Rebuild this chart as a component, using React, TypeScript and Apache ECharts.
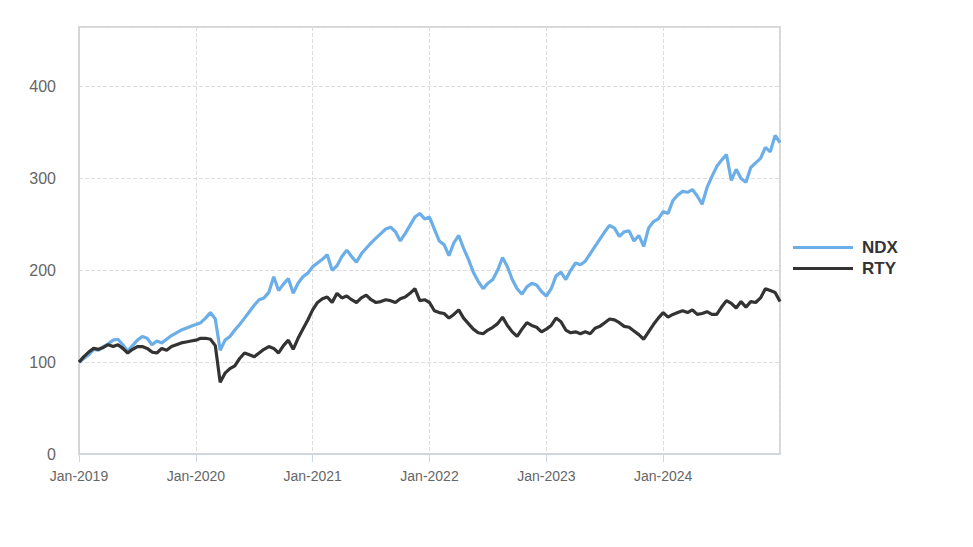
import React, { useEffect, useRef } from "react";
import * as echarts from "echarts";

// Half-month sample dates, Jan-2019 .. Jan-2025
const dates: string[] = [];
for (let y = 2019; y <= 2024; y++) {
  for (let m = 1; m <= 12; m++) {
    const mm = String(m).padStart(2, "0");
    dates.push(`${y}-${mm}-01`);
    dates.push(`${y}-${mm}-15`);
  }
}
dates.push("2025-01-01");

const ndx = [
  100, 104, 108, 114, 113, 117, 120, 124, 125, 119, 112, 118, 124, 128, 126, 119,
  123, 121, 125, 129, 132, 135, 137, 139, 141, 143, 148, 154, 147, 113, 124, 128,
  135, 141, 148, 155, 162, 168, 170, 176, 193, 178, 185, 191, 175, 186, 193, 197,
  204, 208, 212, 217, 200, 205, 215, 222, 215, 209, 218, 224, 230, 235, 240, 245,
  247, 242, 232, 240, 249, 258, 262, 256, 258, 245, 232, 228, 216, 230, 238, 224,
  212, 198, 188, 180, 186, 190, 200, 214, 204, 190, 180, 174, 182, 186, 184, 177,
  172, 180, 194, 198, 190, 200, 208, 206, 210, 218, 226, 234, 242, 249, 246, 237,
  242, 243, 232, 238, 226, 246, 253, 256, 264, 262, 276, 282, 286, 285, 288, 281,
  272, 290, 302, 313, 320, 326, 298, 310, 300, 296, 312, 317, 322, 334, 329, 347,
  339,
];

const rty = [
  100, 106, 111, 115, 114, 116, 119, 117, 119, 115, 110, 114, 117, 117, 115, 111,
  110, 115, 113, 117, 119, 121, 122, 123, 124, 126, 126, 125, 118, 78, 88, 93,
  96, 104, 110, 108, 106, 110, 114, 117, 115, 110, 118, 124, 114, 126, 136, 146,
  157, 165, 169, 171, 165, 175, 170, 172, 168, 165, 170, 173, 168, 165, 166, 168,
  167, 165, 169, 171, 175, 180, 167, 168, 165, 156, 154, 153, 148, 152, 157, 148,
  142, 136, 132, 131, 135, 138, 142, 149, 140, 133, 128, 136, 143, 140, 138, 133,
  136, 140, 148, 144, 135, 132, 133, 131, 133, 131, 137, 139, 143, 147, 146, 143,
  139, 138, 134, 130, 125, 133, 141, 148, 154, 149, 152, 154, 156, 154, 157, 152,
  153, 155, 152, 152, 160, 167, 164, 159, 166, 160, 166, 165, 170, 180, 178, 176,
  166,
];

const seriesNames = ["NDX", "RTY"];
const yTicks = [0, 100, 200, 300, 400];

function toMonths(d: string): number {
  const [y, m, day] = d.split("-").map(Number);
  return (y - 2019) * 12 + (m - 1) + (day >= 15 ? 0.5 : 0);
}

export default function App() {
  const ref = useRef<HTMLDivElement>(null);
  useEffect(() => {
    if (!ref.current) return;
    const chart = echarts.init(ref.current, null, { renderer: "svg" });
    const xs = dates.map(toMonths);
    chart.setOption({
      animation: false,
      backgroundColor: "#ffffff",
      grid: {
        left: 79,
        right: 193,
        top: 27,
        bottom: 93,
        show: true,
        borderColor: "#d6d6d6",
        borderWidth: 2,
        backgroundColor: "transparent",
      },
      legend: {
        orient: "vertical",
        left: 788,
        top: 234,
        itemWidth: 60,
        itemHeight: 3,
        itemGap: 4,
        icon: "rect",
        data: seriesNames,
        textStyle: {
          fontFamily: "Liberation Sans, Arial, sans-serif",
          fontWeight: "bold",
          fontSize: 17,
          color: "#333333",
          padding: [0, 0, 0, 4],
        },
      },
      xAxis: {
        type: "value",
        min: 0,
        max: 72,
        interval: 12,
        axisLine: { show: true, lineStyle: { color: "#ccd6eb", width: 1 } },
        axisTick: { show: true, length: 8, lineStyle: { color: "#ccd6eb" } },
        axisLabel: {
          showMaxLabel: false,
          margin: 15,
          fontSize: 14,
          fontFamily: "Liberation Sans, Arial, sans-serif",
          color: "#666666",
          formatter: (v: number) => "Jan-" + (2019 + Math.round(v / 12)),
        },
        splitLine: {
          show: true,
          lineStyle: { color: "#dddddd", type: "dashed", width: 1 },
        },
      },
      yAxis: {
        type: "value",
        min: yTicks[0],
        max: 465,
        interval: 100,
        axisLine: { show: true, lineStyle: { color: "#ccd6eb", width: 1 } },
        axisTick: { show: false },
        axisLabel: {
          showMaxLabel: false,
          margin: 23,
          fontSize: 16,
          fontFamily: "Liberation Sans, Arial, sans-serif",
          color: "#666666",
        },
        splitLine: {
          show: true,
          lineStyle: { color: "#dddddd", type: "dashed", width: 1 },
        },
      },
      series: [
        {
          name: seriesNames[0],
          type: "line",
          data: xs.map((x, i) => [x, ndx[i]]),
          showSymbol: false,
          symbol: "none",
          lineStyle: { color: "#6caee8", width: 3.2 },
          itemStyle: { color: "#6caee8" },
          z: 2,
        },
        {
          name: seriesNames[1],
          type: "line",
          data: xs.map((x, i) => [x, rty[i]]),
          showSymbol: false,
          symbol: "none",
          lineStyle: { color: "#333333", width: 3.2 },
          itemStyle: { color: "#333333" },
          z: 3,
        },
      ],
    });
    return () => chart.dispose();
  }, []);
  return (
    <div
      ref={ref}
      style={{ position: "fixed", left: 0, top: 0, width: 973, height: 547 }}
    />
  );
}
